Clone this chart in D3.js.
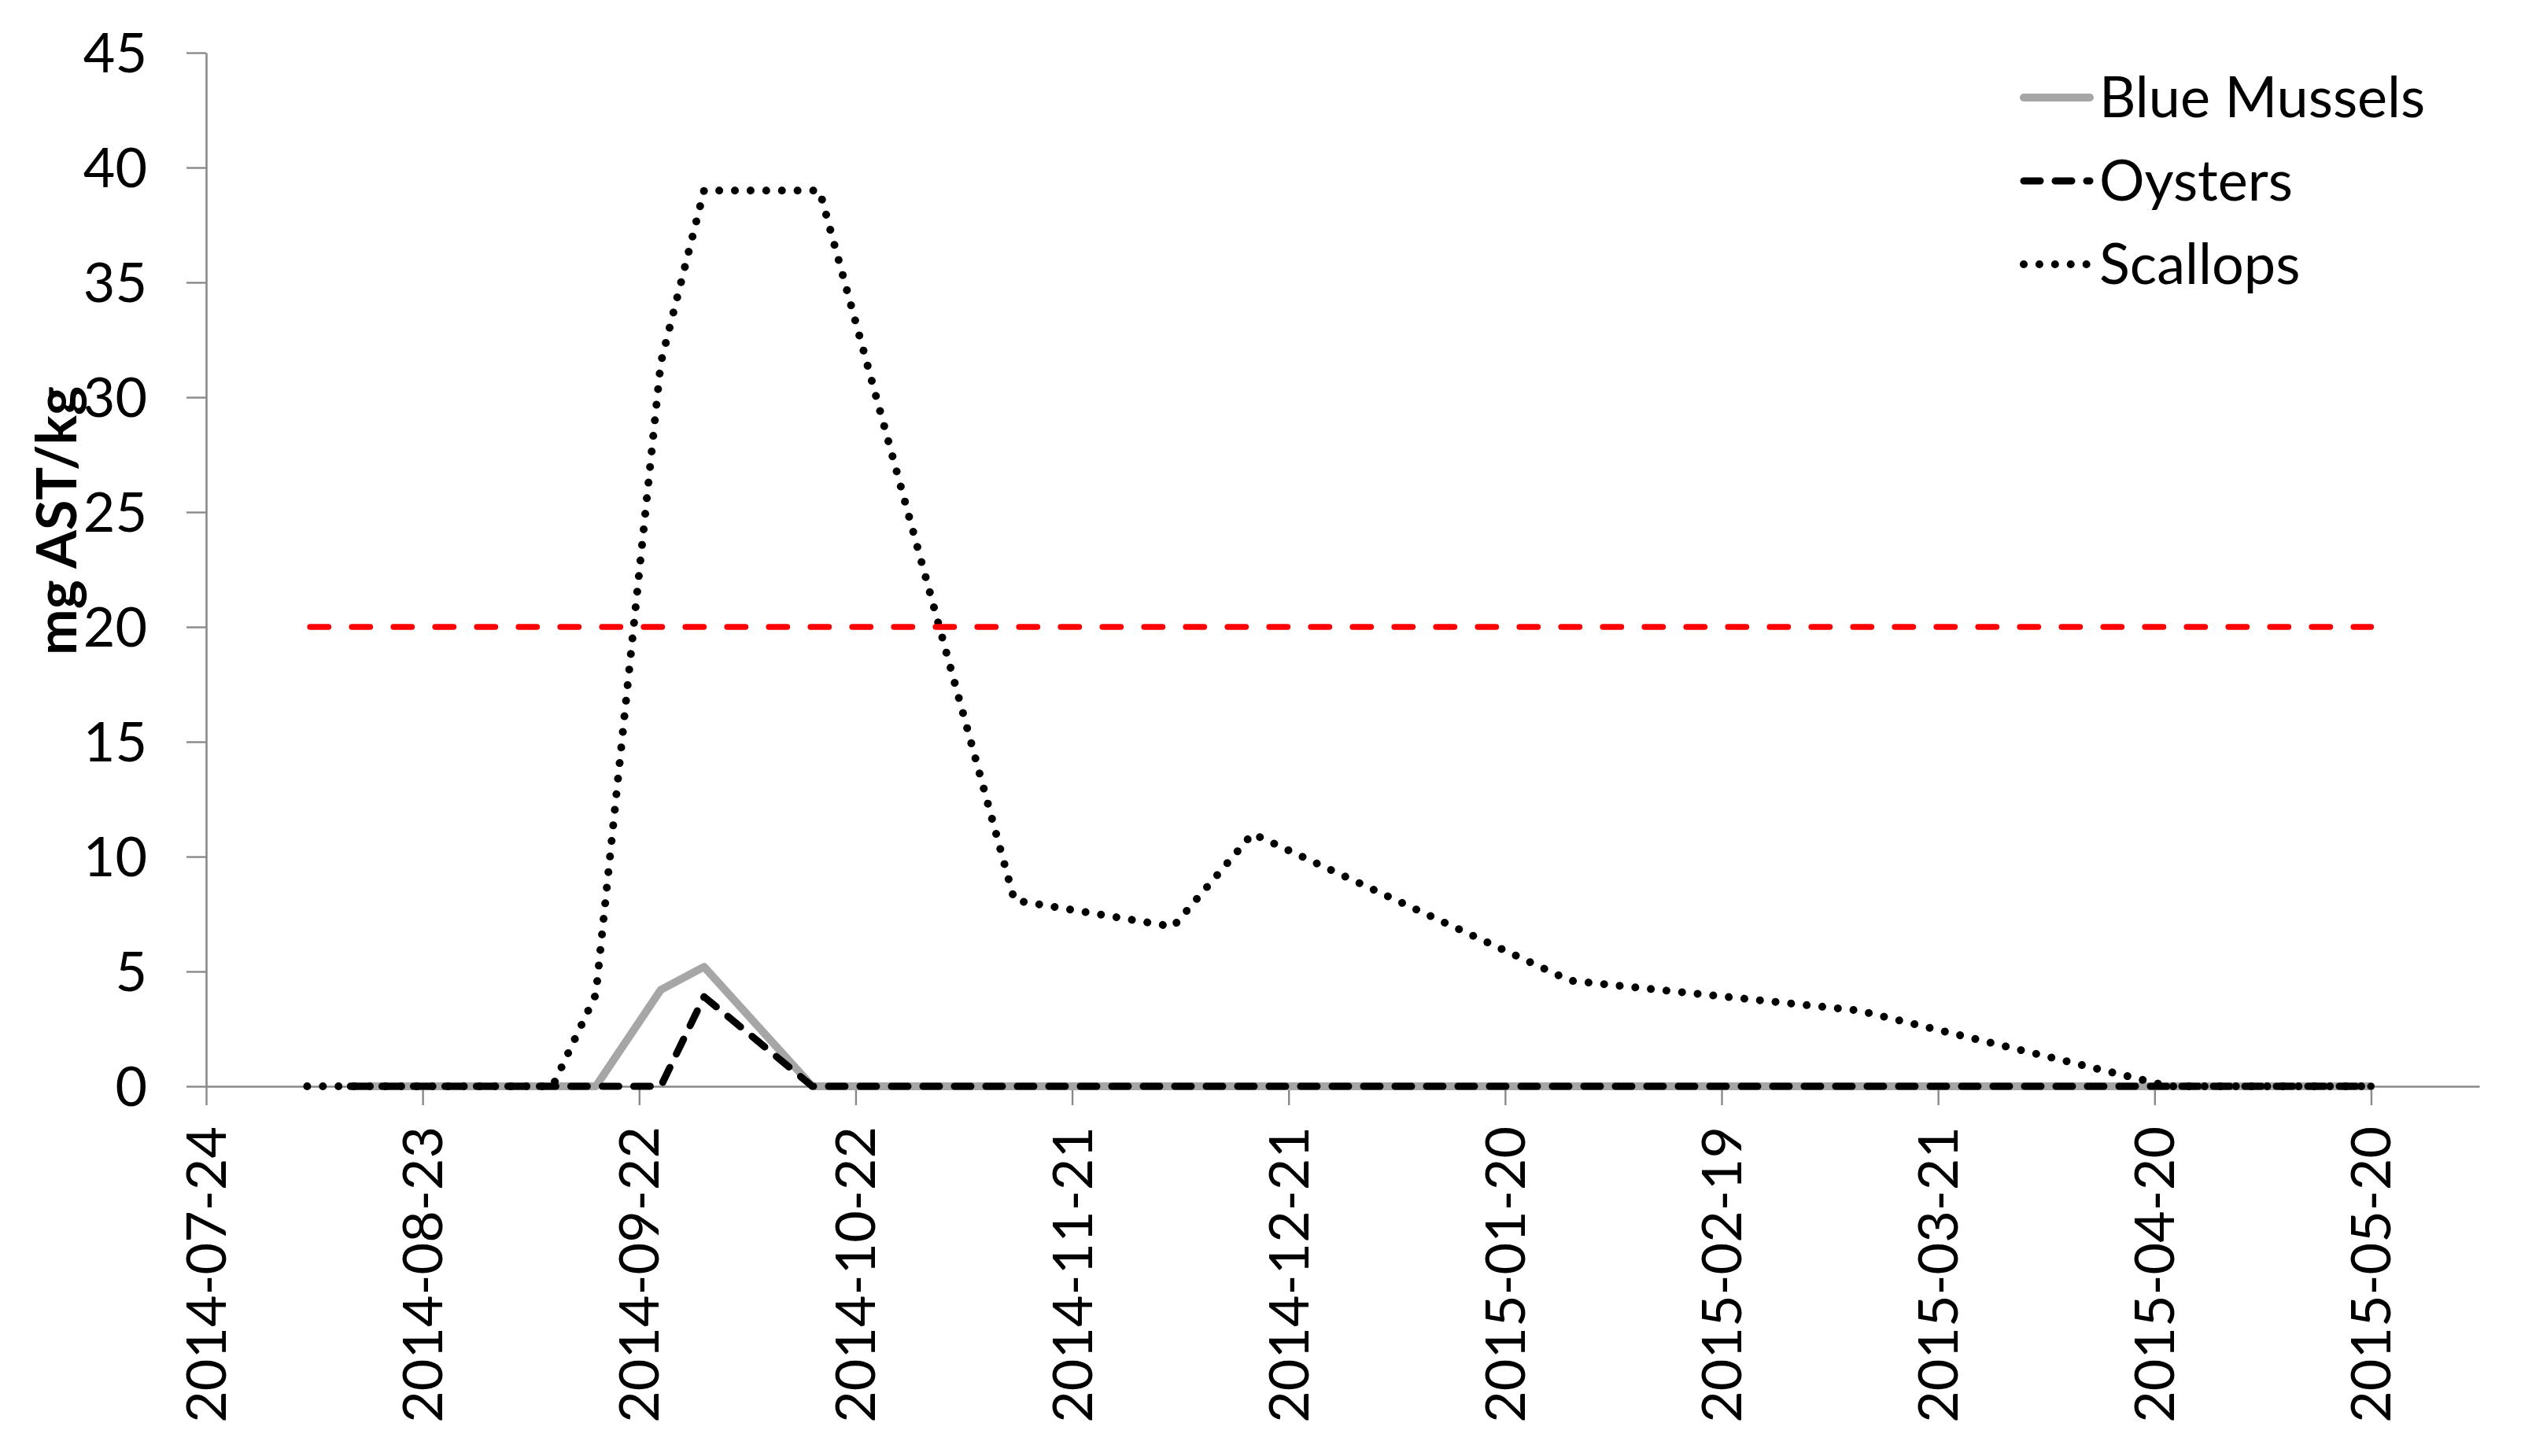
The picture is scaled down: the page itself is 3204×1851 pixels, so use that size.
<!DOCTYPE html>
<html><head><meta charset="utf-8">
<script src="https://cdn.jsdelivr.net/npm/d3@7"></script>
<style>html,body{margin:0;padding:0;background:#fff;} svg{display:block;}</style>
</head><body>
<svg id="chart" width="3204" height="1851"></svg>
<script>
// ---------- data ----------
const seriesNames = ["Blue Mussels", "Oysters", "Scallops"];

const musselDates  = ["2014-08-13","2014-08-20","2014-08-27","2014-09-03","2014-09-10","2014-09-16","2014-09-25","2014-10-01","2014-10-16","2014-11-13","2014-12-05","2014-12-16","2015-01-29","2015-03-10","2015-04-22","2015-05-20"];
const musselValues = [0,0,0,0,0,0,4.2,5.2,0,0,0,0,0,0,0,0];

const oysterDates  = ["2014-08-13","2014-08-20","2014-08-27","2014-09-03","2014-09-10","2014-09-16","2014-09-25","2014-10-01","2014-10-16","2014-11-13","2014-12-05","2014-12-16","2015-01-29","2015-03-10","2015-04-22","2015-05-20"];
const oysterValues = [0,0,0,0,0,0,0,3.9,0,0,0,0,0,0,0,0];

const scallopDates  = ["2014-08-07","2014-08-13","2014-08-20","2014-08-27","2014-09-03","2014-09-10","2014-09-16","2014-09-25","2014-10-01","2014-10-17","2014-11-13","2014-12-05","2014-12-16","2015-01-29","2015-03-10","2015-04-22","2015-05-20"];
const scallopValues = [0,0,0,0,0,0,4.0,31.5,39,39,8.1,6.95,11.0,4.6,3.3,0,0];

const limitDates  = ["2014-08-07","2015-05-20"];
const limitValues = [20,20];

const xTickLabels = ["2014-07-24","2014-08-23","2014-09-22","2014-10-22","2014-11-21","2014-12-21","2015-01-20","2015-02-19","2015-03-21","2015-04-20","2015-05-20"];
const xDomain = ["2014-07-24","2015-06-04"];
const yTickValues = [0,5,10,15,20,25,30,35,40,45];
const yLabel = "mg AST/kg";

// ---------- drawing ----------
const parse = d3.utcParse("%Y-%m-%d");
const fmt = d3.utcFormat("%Y-%m-%d");
const svg = d3.select("#chart");
svg.append("rect").attr("width",3204).attr("height",1851).attr("fill","#fff");

const mLeft = 262, mRight = 3151, mTop = 67, mBottom = 1381;
const x = d3.scaleUtc().domain(xDomain.map(parse)).range([mLeft, mRight]);
const y = d3.scaleLinear().domain([0,45]).range([mBottom, mTop]);

const FONT = "Lato, 'Open Sans', sans-serif";
const axisColor = "#898989";

// y axis
const gy = svg.append("g").attr("transform",`translate(${mLeft},0)`)
  .call(d3.axisLeft(y).tickValues(yTickValues).tickSize(25).tickSizeOuter(0).tickPadding(50).tickFormat(d3.format("d")));
gy.select(".domain").attr("stroke",axisColor).attr("stroke-width",2.6);
gy.selectAll(".tick line").attr("stroke",axisColor).attr("stroke-width",2.4);
gy.selectAll(".tick text").attr("font-family",FONT).attr("font-size",70).attr("fill","#000").attr("dy","0.35em");

// x axis
const gx = svg.append("g").attr("transform",`translate(0,${mBottom})`)
  .call(d3.axisBottom(x).tickValues(xTickLabels.map(parse)).tickSize(24).tickSizeOuter(0).tickFormat(fmt));
gx.select(".domain").attr("stroke",axisColor).attr("stroke-width",2.6);
gx.selectAll(".tick line").attr("stroke",axisColor).attr("stroke-width",2.4);
gx.selectAll(".tick text")
  .attr("font-family",FONT).attr("font-size",70).attr("fill","#000")
  .attr("transform","rotate(-90)")
  .attr("text-anchor","end")
  .attr("x",-51).attr("y",0).attr("dy","0.35em");

// y title
svg.append("text")
  .attr("transform","translate(72,662) rotate(-90)")
  .attr("text-anchor","middle").attr("dy","0.35em")
  .attr("font-family",FONT).attr("font-size",70).attr("font-weight","bold")
  .text(yLabel);

function pts(dates, vals){ return dates.map((d,i)=>({d:parse(d), v:vals[i]})); }

const line = d3.line().x(p=>x(p.d)).y(p=>y(p.v));

const styles = {
  "Blue Mussels": {stroke:"#A6A6A6", width:10, dash:null},
  "Oysters": {stroke:"#000", width:9, dash:"21 19"},
  "Scallops": {stroke:"#000", width:10, dash:"0.01 19.9"}
};
const seriesData = {
  "Blue Mussels": pts(musselDates, musselValues),
  "Oysters": pts(oysterDates, oysterValues),
  "Scallops": pts(scallopDates, scallopValues)
};

seriesNames.forEach(name=>{
  const s = styles[name];
  svg.append("path").datum(seriesData[name])
    .attr("d", line).attr("fill","none")
    .attr("stroke",s.stroke).attr("stroke-width",s.width)
    .attr("stroke-dasharray",s.dash)
    .attr("stroke-linejoin","round").attr("stroke-linecap","round");
});

svg.append("path").datum(pts(limitDates, limitValues))
  .attr("d", line).attr("fill","none")
  .attr("stroke","#FF0000").attr("stroke-width",7.4)
  .attr("stroke-dasharray","23.4 29.6")
  .attr("stroke-dashoffset",-3.7)
  .attr("stroke-linecap","round");

// legend
const lg = svg.append("g");
const legX0 = 2572, legX1 = 2656, legY0 = 124, legDY = 106;
seriesNames.forEach((name,i)=>{
  const s = styles[name];
  const yy = legY0 + i*legDY;
  lg.append("line").attr("x1",legX0).attr("x2",legX1).attr("y1",yy).attr("y2",yy)
    .attr("stroke",s.stroke).attr("stroke-width",s.width)
    .attr("stroke-dasharray",s.dash).attr("stroke-linecap","round");
  lg.append("text").attr("x",2668).attr("y",yy).attr("dy","0.35em")
    .attr("font-family",FONT).attr("font-size",72).attr("fill","#000").text(name);
});
</script>
</body></html>
